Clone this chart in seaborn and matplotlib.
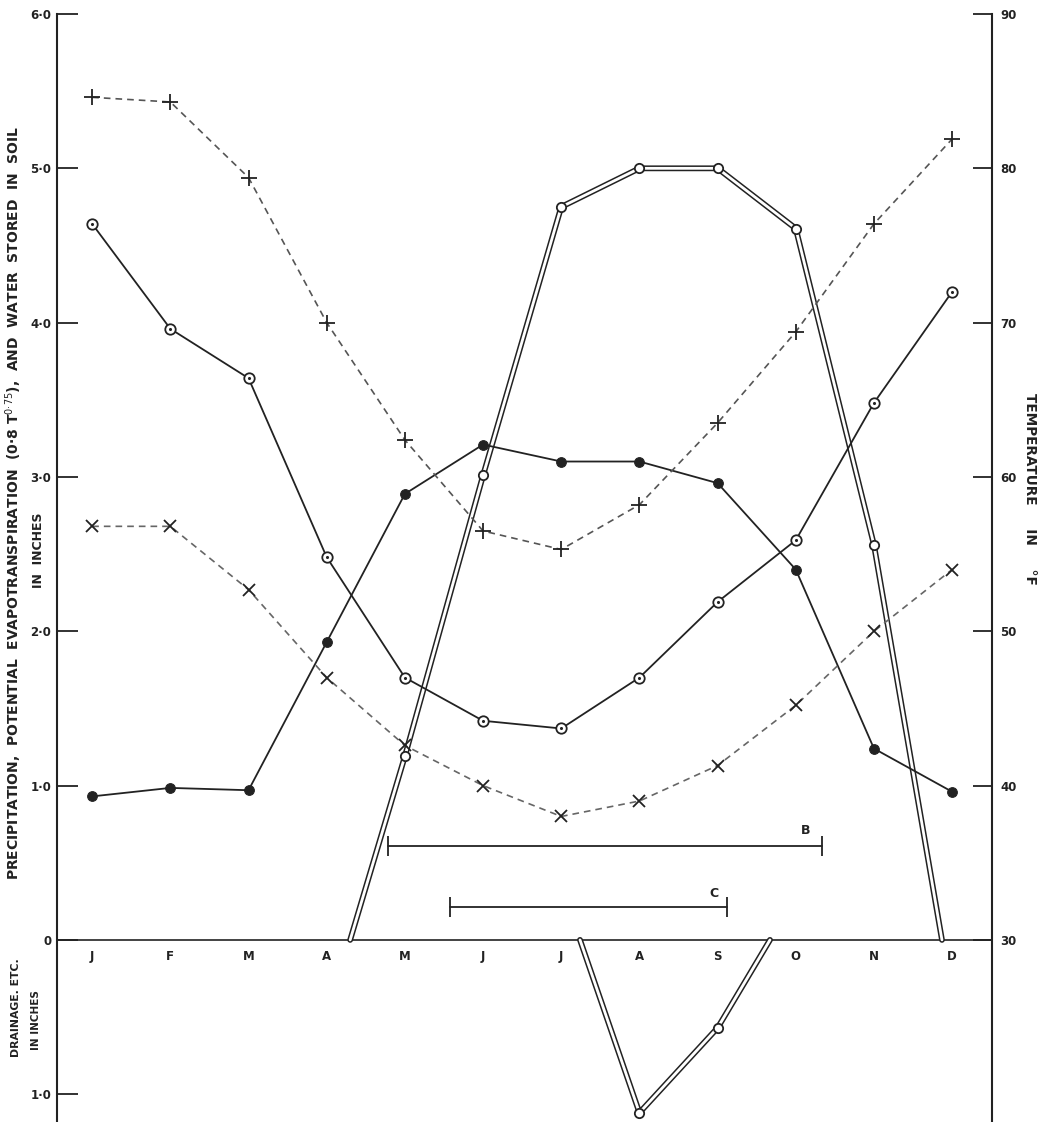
import matplotlib
matplotlib.use("Agg")
import matplotlib.pyplot as plt
import seaborn as sns
import numpy as np

sns.set_style("white")
plt.rcParams['font.family'] = ['DejaVu Sans']

# ---------------- data ----------------
month_labels = ["J", "F", "M", "A", "M", "J", "J", "A", "S", "O", "N", "D"]
month_idx = list(range(12))

# precipitation (inches) - filled circles
precip = [0.93, 0.985, 0.97, 1.93, 2.89, 3.21, 3.10, 3.10, 2.96, 2.40, 1.24, 0.96]
# potential evapotranspiration, curve "+" (inches)
pet_plus = [5.46, 5.43, 4.94, 4.00, 3.24, 2.65, 2.53, 2.82, 3.35, 3.94, 4.64, 5.19]
# potential evapotranspiration (0.8 T^0.75), curve "x" (inches)
pet_x = [2.68, 2.68, 2.27, 1.70, 1.26, 1.00, 0.80, 0.90, 1.13, 1.52, 2.00, 2.40]
# temperature (deg F) - circled dots, right axis
temp_f = [76.4, 69.6, 66.4, 54.8, 47.0, 44.2, 43.7, 47.0, 51.9, 55.9, 64.8, 72.0]
# water stored in soil (inches) - double line
soil_x = [3.30, 4, 5, 6, 7, 8, 9, 10, 10.87]
soil_y = [0.0, 1.19, 3.01, 4.75, 5.00, 5.00, 4.61, 2.56, 0.0]
# drainage etc. (inches, plotted downward)
drain_x = [6.24, 7, 8, 8.67]
drain_y = [0.0, -1.12, -0.57, 0.0]
# periods B and C
period_b = [3.79, 9.33]
period_b_level = 0.61
period_c = [4.58, 8.12]
period_c_level = 0.21

left_ticks = [6, 5, 4, 3, 2, 1, 0, -1]
left_tick_labels = ["6·0", "5·0", "4·0", "3·0", "2·0", "1·0", "0", "1·0"]
right_ticks = [30, 40, 50, 60, 70, 80, 90]

INK = "#222222"
GREY = "#555555"

# ---------------- figure ----------------
W, H = 1048, 1122
fig = plt.figure(figsize=(W / 100, H / 100), dpi=100)
fig.patch.set_facecolor("white")
ax = fig.add_axes([57 / W, 0, (992 - 57) / W, (H - 14) / H])
ax.set_facecolor("white")

ymin, ymax = -1.18, 6.0
ax.set_ylim(ymin, ymax)
ax.set_xlim(-0.45, 11.51)

# precipitation
sns.lineplot(x=month_idx, y=precip, ax=ax, color=INK, lw=1.3, marker="o",
             markersize=7, markeredgecolor=INK, markerfacecolor=INK, zorder=4)
# PET +
sns.lineplot(x=month_idx, y=pet_plus, ax=ax, color=GREY, lw=1.2,
             linestyle=(0, (4, 3)), marker="+", markersize=11, markeredgewidth=1.3,
             markeredgecolor=INK, zorder=4)
# PET x
sns.lineplot(x=month_idx, y=pet_x, ax=ax, color="#666666", lw=1.2,
             linestyle=(0, (4, 3)), marker="x", markersize=8, markeredgewidth=1.3,
             markeredgecolor=INK, zorder=4)

# soil water - double line
sns.lineplot(x=soil_x, y=soil_y, ax=ax, color=INK, lw=4.2, sort=False, zorder=3)
sns.lineplot(x=soil_x, y=soil_y, ax=ax, color="white", lw=2.0, sort=False, zorder=3.1)
sns.lineplot(x=drain_x, y=drain_y, ax=ax, color=INK, lw=4.2, sort=False, zorder=3)
sns.lineplot(x=drain_x, y=drain_y, ax=ax, color="white", lw=2.0, sort=False, zorder=3.1)
mk_x = soil_x[1:-1] + drain_x[1:-1]
mk_y = soil_y[1:-1] + drain_y[1:-1]
sns.scatterplot(x=mk_x, y=mk_y, ax=ax, s=45, marker="o", facecolor="white",
                edgecolor=INK, linewidth=1.3, zorder=5)

# periods B and C
ax.plot(period_b, [period_b_level] * 2, color=INK, lw=1.3, marker="|",
        markersize=14, markeredgewidth=1.3, zorder=4)
ax.plot(period_c, [period_c_level] * 2, color=INK, lw=1.3, marker="|",
        markersize=14, markeredgewidth=1.3, zorder=4)
ax.text(period_b[1] - 0.2, period_b_level + 0.10, "B", fontsize=9, fontweight="bold",
        color=INK, ha="center", va="center")
ax.text(period_c[1] - 0.17, period_c_level + 0.09, "C", fontsize=9, fontweight="bold",
        color=INK, ha="center", va="center")

# temperature on right axis
ax2 = ax.twinx()
ax2.set_ylim(30 + 10 * ymin, 30 + 10 * ymax)
sns.lineplot(x=month_idx, y=temp_f, ax=ax2, color=INK, lw=1.3, marker="o",
             markersize=7.5, markerfacecolor="white", markeredgecolor=INK,
             markeredgewidth=1.3, zorder=4)
sns.scatterplot(x=month_idx, y=temp_f, ax=ax2, s=5, color=INK, linewidth=0, zorder=6)
ax2.set_ylabel("")
ax2.set_yticks(right_ticks)
ax2.set_yticklabels([str(t) for t in right_ticks], fontsize=8.5, fontweight="bold", color=INK)
ax2.tick_params(axis="y", direction="in", length=14, width=1.3, pad=6, colors=INK)

# axes styling
for a in (ax, ax2):
    a.spines["top"].set_visible(False)
    a.spines["left"].set_linewidth(1.5)
    a.spines["right"].set_linewidth(1.5)
    a.spines["left"].set_color(INK)
    a.spines["right"].set_color(INK)
ax2.spines["bottom"].set_visible(False)
ax2.spines["left"].set_visible(False)
ax.spines["right"].set_visible(False)

ax.spines["bottom"].set_position(("data", 0))
ax.spines["bottom"].set_linewidth(1.2)
ax.spines["bottom"].set_color(INK)

ax.set_yticks(left_ticks)
ax.set_yticklabels(left_tick_labels, fontsize=8.5, fontweight="bold", color=INK)
ax.tick_params(axis="y", direction="in", length=15, width=1.3, pad=4, colors=INK)

ax.set_xticks([i + 0.5 for i in range(11)])
ax.set_xticklabels([])
ax.tick_params(axis="x", which="major", direction="inout", length=11, width=1.0, colors=INK)
ax.set_xticks(month_idx, minor=True)
ax.set_xticklabels(month_labels, minor=True, fontsize=8.5, fontweight="bold", color=INK)
ax.tick_params(axis="x", which="minor", length=0, pad=7)
ax.set_xlabel("")
ax.set_ylabel("")

# axis titles
fig.text(14 / W, 1 - 503 / H,
         "PRECIPITATION,  POTENTIAL  EVAPOTRANSPIRATION  (0·8 T$^{0·75}$),  AND  WATER  STORED  IN  SOIL",
         rotation=90, ha="center", va="center", fontsize=10, fontweight="bold", color=INK)
fig.text(38 / W, 1 - 550 / H, "IN  INCHES", rotation=90, ha="center", va="center",
         fontsize=9, fontweight="bold", color=INK)
fig.text(16 / W, 1 - 1008 / H, "DRAINAGE. ETC.", rotation=90, ha="center", va="center",
         fontsize=7.8, fontweight="bold", color=INK)
fig.text(36 / W, 1 - 1020 / H, "IN INCHES", rotation=90, ha="center", va="center",
         fontsize=7.5, fontweight="bold", color=INK)
fig.text(1030 / W, 1 - 489 / H, "TEMPERATURE     IN     °F", rotation=270, ha="center",
         va="center", fontsize=9.8, fontweight="bold", color=INK)

fig.savefig("out.png", dpi=100, facecolor="white")
